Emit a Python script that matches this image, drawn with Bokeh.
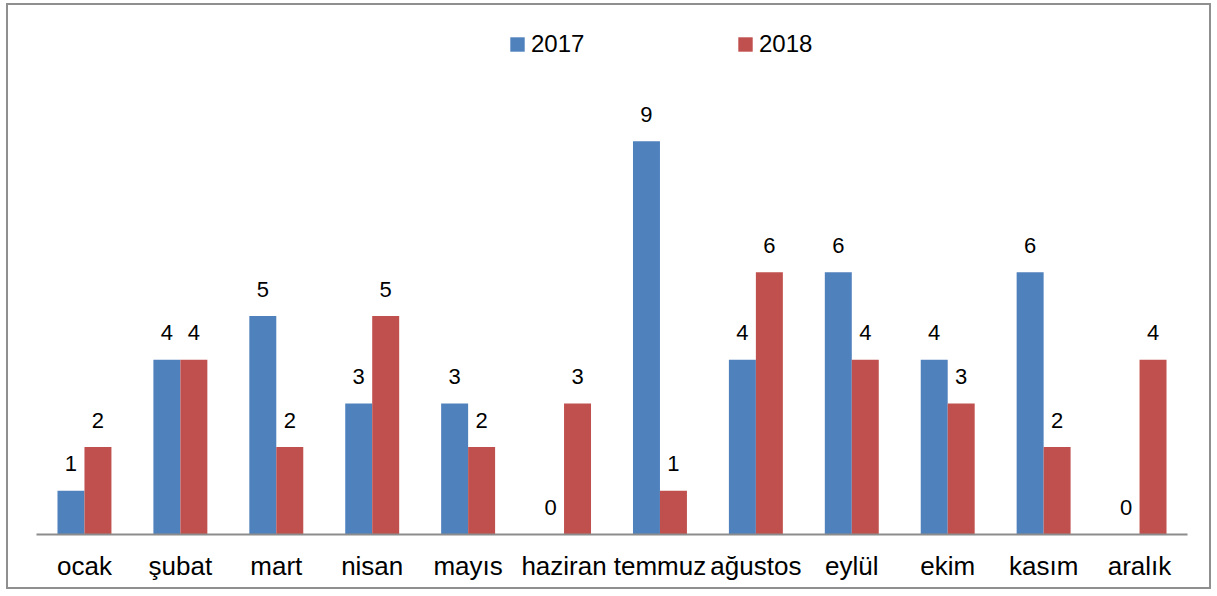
from bokeh.plotting import figure
from bokeh.models import ColumnDataSource, FactorRange, Legend, LegendItem
from bokeh.transform import dodge
from bokeh.core.properties import value
from bokeh.embed import file_html
from bokeh.resources import INLINE

months = ["ocak", "şubat", "mart", "nisan", "mayıs", "haziran",
          "temmuz", "ağustos", "eylül", "ekim", "kasım", "aralık"]
v2017 = [1, 4, 5, 3, 3, 0, 9, 4, 6, 4, 6, 0]
v2018 = [2, 4, 2, 5, 2, 3, 1, 6, 4, 3, 2, 4]
series = ["2017", "2018"]
colors = ["#4F81BD", "#C0504D"]

src = ColumnDataSource(dict(
    month=months,
    y2017=v2017, y2018=v2018,
    t2017=[str(v) for v in v2017], t2018=[str(v) for v in v2018],
))

FONT = "Liberation Sans"
BW = 0.28125

p = figure(x_range=FactorRange(*months, range_padding=0), y_range=(0, 11.9),
           width=1205, height=586, output_backend="svg", toolbar_location=None,
           y_axis_location=None,
           min_border_left=28, min_border_right=26, min_border_top=9, min_border_bottom=57)
p.styles = {"border": "2px solid #8f8f8f", "margin-left": "6px", "margin-top": "3px"}
p.outline_line_color = None
p.xgrid.grid_line_color = None
p.ygrid.grid_line_color = None

renderers = []
for s, c, off in zip(series, colors, [-BW / 2, BW / 2]):
    r = p.vbar(x=dodge("month", off, range=p.x_range), top="y" + s, width=BW,
               source=src, fill_color=c, line_color=None)
    renderers.append(r)
    p.text(x=dodge("month", off, range=p.x_range), y="y" + s, text="t" + s, source=src,
           text_align="center", text_baseline="alphabetic", y_offset=-27,
           text_font=value(FONT), text_font_size="22px", text_color="black")

legend = Legend(items=[LegendItem(label=s, renderers=[r]) for s, r in zip(series, renderers)],
                orientation="horizontal", location=(472, 476), padding=0, margin=0,
                spacing=105, glyph_width=18, glyph_height=18, label_standoff=5,
                label_width=100, label_text_font=FONT, label_text_font_size="24px",
                label_text_color="black", border_line_color=None, background_fill_alpha=0)
p.add_layout(legend)

ax = p.xaxis[0]
ax.major_label_text_font = FONT
ax.major_label_text_font_size = "26px"
ax.major_label_text_color = "black"
ax.major_tick_line_color = None
ax.minor_tick_line_color = None
ax.major_tick_out = 0
ax.major_tick_in = 0
ax.axis_line_color = "#8c8c8c"
ax.axis_line_width = 2
ax.major_label_standoff = 16

open("out.html", "w").write(file_html(p, INLINE))
